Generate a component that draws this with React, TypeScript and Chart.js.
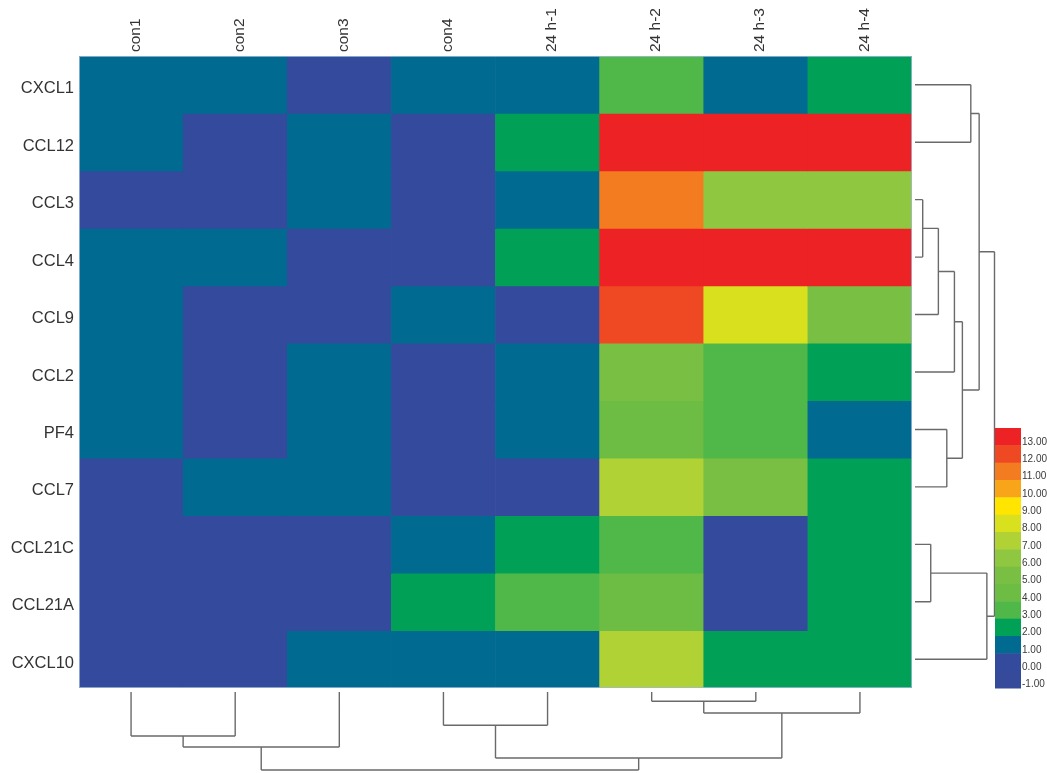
import React, { useEffect, useRef } from "react";
import { Chart, registerables } from "chart.js";

Chart.register(...registerables);

// ---------- data ----------
const columns = ["con1", "con2", "con3", "con4", "24 h-1", "24 h-2", "24 h-3", "24 h-4"];
const rows = ["CXCL1", "CCL12", "CCL3", "CCL4", "CCL9", "CCL2", "PF4", "CCL7", "CCL21C", "CCL21A", "CXCL10"];

const CXCL1 = [1, 1, 0, 1, 1, 3, 1, 2];
const CCL12 = [1, 0, 1, 0, 2, 13, 13, 13];
const CCL3 = [0, 0, 1, 0, 1, 11, 6, 6];
const CCL4 = [1, 1, 0, 0, 2, 13, 13, 13];
const CCL9 = [1, 0, 0, 1, 0, 12, 8, 5];
const CCL2 = [1, 0, 1, 0, 1, 5, 3, 2];
const PF4 = [1, 0, 1, 0, 1, 4, 3, 1];
const CCL7 = [0, 1, 1, 0, 0, 7, 5, 2];
const CCL21C = [0, 0, 0, 1, 2, 3, 0, 2];
const CCL21A = [0, 0, 0, 2, 3, 4, 0, 2];
const CXCL10 = [0, 0, 1, 1, 1, 7, 2, 2];
const values = [CXCL1, CCL12, CCL3, CCL4, CCL9, CCL2, PF4, CCL7, CCL21C, CCL21A, CXCL10];

const legendLevels = [13, 12, 11, 10, 9, 8, 7, 6, 5, 4, 3, 2, 1, 0, -1];
const legendColors = [
  "#ed2224", "#ef4923", "#f37c21", "#f9a51a", "#ffe500", "#d9e11f", "#b0d235", "#8fc741",
  "#78bf44", "#6dbd45", "#50b848", "#00a157", "#006a91", "#344a9c", "#364a9b",
];

// dendrograms: [childA, childB, height]; leaves are 0..n-1, merges numbered from n
const rowMerges: [number, number, number][] = [
  [2, 3, 0.097],
  [8, 9, 0.198],
  [11, 4, 0.294],
  [6, 7, 0.4],
  [13, 5, 0.496],
  [15, 14, 0.596],
  [0, 1, 0.702],
  [17, 16, 0.807],
  [12, 10, 0.904],
  [18, 19, 1.0],
];
const colMerges: [number, number, number][] = [
  [5, 6, 0.119],
  [8, 7, 0.269],
  [3, 4, 0.427],
  [0, 1, 0.564],
  [11, 2, 0.705],
  [10, 9, 0.846],
  [12, 13, 1.0],
];

const colorFor = (v: number) => {
  const i = legendLevels.indexOf(v);
  return i >= 0 ? legendColors[i] : "#cccccc";
};

const FONT = "'Liberation Sans', Arial, Helvetica, sans-serif";

function drawDendro(
  ctx: CanvasRenderingContext2D,
  leafPos: number[],
  merges: [number, number, number][],
  toPix: (h: number) => number,
  vertical: boolean
) {
  const pos: number[] = [...leafPos];
  const hts: number[] = leafPos.map(() => 0);
  const line = (h1: number, p1: number, h2: number, p2: number) => {
    if (vertical) {
      ctx.moveTo(p1, toPix(h1));
      ctx.lineTo(p2, toPix(h2));
    } else {
      ctx.moveTo(toPix(h1), p1);
      ctx.lineTo(toPix(h2), p2);
    }
  };
  ctx.beginPath();
  merges.forEach(([a, b, h]) => {
    line(hts[a], pos[a], h, pos[a]);
    line(hts[b], pos[b], h, pos[b]);
    line(h, pos[a], h, pos[b]);
    pos.push((pos[a] + pos[b]) / 2);
    hts.push(h);
  });
  ctx.stroke();
}

const extrasPlugin = {
  id: "heatExtras",
  afterDraw(chart: any) {
    const ctx: CanvasRenderingContext2D = chart.ctx;
    const { left, right, top, bottom } = chart.chartArea;
    const xs = chart.scales.x;
    const ys = chart.scales.y;
    ctx.save();
    // thin edge around heatmap
    ctx.strokeStyle = "rgba(160,185,215,0.8)";
    ctx.lineWidth = 1;
    ctx.strokeRect(left + 0.5, top + 0.5, right - left - 1, bottom - top - 1);

    // dendrograms
    ctx.strokeStyle = "#6a6a6a";
    ctx.lineWidth = 1.4;
    const rowLeaf = rows.map((_, i) => ys.getPixelForValue(i + 0.5));
    drawDendro(ctx, rowLeaf, rowMerges, (h) => right + 3 + h * 79.5, false);
    const colLeaf = columns.map((_, i) => xs.getPixelForValue(i));
    drawDendro(ctx, colLeaf, colMerges, (h) => bottom + 4 + h * 78, true);

    // legend
    const lx = 995;
    const lw = 26;
    const ltop = 428;
    const lh = (bottom - ltop) / legendLevels.length;
    legendLevels.forEach((v, i) => {
      ctx.fillStyle = legendColors[i];
      ctx.fillRect(lx, ltop + i * lh, lw, lh + 0.5);
    });
    ctx.fillStyle = "#3a3a3a";
    ctx.font = `10px ${FONT}`;
    ctx.textAlign = "left";
    ctx.textBaseline = "middle";
    legendLevels.forEach((v, i) => {
      ctx.fillText(v.toFixed(2), lx + lw + 1, ltop + (i + 0.8) * lh);
    });
    ctx.restore();
  },
};

export default function App() {
  const ref = useRef<HTMLCanvasElement | null>(null);
  useEffect(() => {
    if (!ref.current) return;
    const chart = new Chart(ref.current, {
      type: "bar",
      data: {
        labels: columns,
        datasets: rows.map((name, r) => ({
          label: name,
          data: values[r].map(() => [r, r + 1]) as any,
          backgroundColor: values[r].map(colorFor),
          borderWidth: 0,
          barPercentage: 1,
          categoryPercentage: 1,
          grouped: false,
        })),
      },
      options: {
        animation: false,
        responsive: false,
        maintainAspectRatio: false,
        layout: { padding: { left: 0, top: 0, right: 135, bottom: 85 } },
        plugins: { legend: { display: false }, tooltip: { enabled: false } },
        scales: {
          x: {
            type: "category",
            position: "top",
            grid: { display: false, drawTicks: false },
            border: { display: false },
            ticks: {
              autoSkip: false,
              minRotation: 90,
              maxRotation: 90,
              padding: 4,
              labelOffset: 23,
              color: "#333333",
              font: { family: FONT, size: 15.5 },
            },
            afterFit: (s: any) => {
              s.height = 56;
            },
          },
          y: {
            type: "linear",
            min: 0,
            max: 11,
            reverse: true,
            position: "left",
            grid: { display: false, drawTicks: false },
            border: { display: false },
            afterBuildTicks: (s: any) => {
              s.ticks = rows.map((_, i) => ({ value: i + 0.5 }));
            },
            ticks: {
              autoSkip: false,
              padding: 5,
              labelOffset: 4,
              color: "#333333",
              font: { family: FONT, size: 16.5 },
              callback: (v: any) => rows[Math.floor(Number(v))],
            },
            afterFit: (s: any) => {
              s.width = 79;
            },
          },
        },
      },
      plugins: [extrasPlugin],
    });
    return () => chart.destroy();
  }, []);
  return (
    <div style={{ position: "fixed", left: 0, top: 0, width: 1047, height: 773, background: "#fff" }}>
      <canvas ref={ref} width={1047} height={773} style={{ display: "block" }} />
    </div>
  );
}
